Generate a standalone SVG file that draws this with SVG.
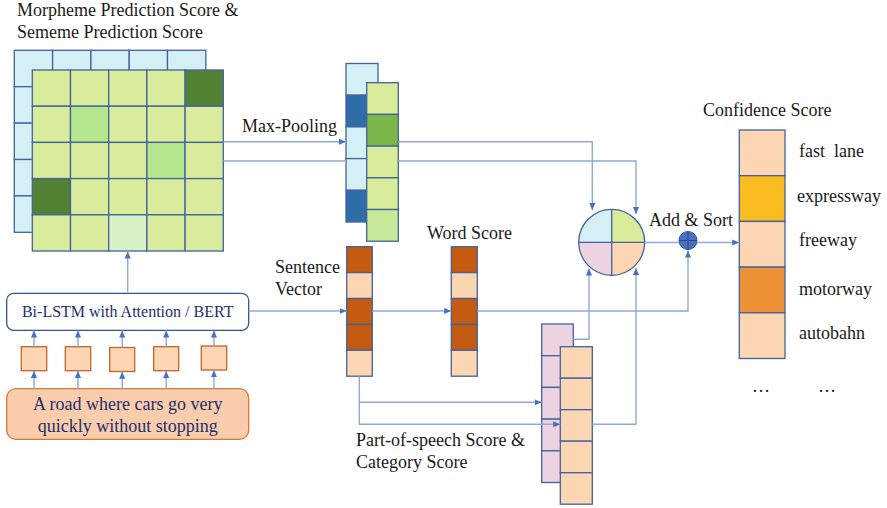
<svg xmlns="http://www.w3.org/2000/svg" width="887" height="508" viewBox="0 0 887 508" font-family="'Liberation Serif', 'Times New Roman', serif">
<defs>
<marker id="ah" viewBox="0 0 8 8" refX="8" refY="4" markerWidth="7" markerHeight="7" markerUnits="userSpaceOnUse" orient="auto"><path d="M0,0.5 L8,4 L0,7.5 z" fill="#4472C4"/></marker>
<style>
text{font-family:"Liberation Serif","Times New Roman",serif;font-size:18px;fill:#1a1a1a}
.nv{fill:#1F2E6B}
.c{stroke:#4262A0;stroke-width:1.3}
.bl{fill:#D5F0F5}
.g{fill:#D8EC9B}
.gd{fill:#548235}
.gm{fill:#B5E58D}
.gl{fill:#D9F2C5}
.db{fill:#2F6DA8}
.gg{fill:#7AB648}
.gp{fill:#C7E99A}
.o{fill:#C55A11}
.p{fill:#FCD5B2}
.pk{fill:#ECD3DF}
.y{fill:#FABD21}
.or{fill:#EE9036}
.ln{fill:none;stroke:#8FA9DA;stroke-width:1.4}
</style>
</defs>
<rect width="887" height="508" fill="#fff"/>

<g id="title">
<text x="17" y="16">Morpheme Prediction Score &amp;</text>
<text x="17" y="38">Sememe Prediction Score</text>
</g>

<g id="score-grid">
<g class="c bl">
<rect x="14.3" y="50.3" width="38.3" height="36.4"/><rect x="52.6" y="50.3" width="38.3" height="36.4"/><rect x="90.9" y="50.3" width="38.3" height="36.4"/><rect x="129.2" y="50.3" width="38.3" height="36.4"/><rect x="167.5" y="50.3" width="38.3" height="36.4"/>
<rect x="14.3" y="86.7" width="38.3" height="36.4"/><rect x="14.3" y="123.1" width="38.3" height="36.4"/><rect x="14.3" y="159.5" width="38.3" height="36.4"/><rect x="14.3" y="195.9" width="38.3" height="36.4"/>
</g>
<g class="c">
<rect class="g" x="32.3" y="70" width="38.2" height="36.2"/><rect class="g" x="70.5" y="70" width="38.2" height="36.2"/><rect class="g" x="108.7" y="70" width="38.2" height="36.2"/><rect class="g" x="146.9" y="70" width="38.2" height="36.2"/><rect class="gd" x="185.1" y="70" width="38.2" height="36.2"/>
<rect class="g" x="32.3" y="106.2" width="38.2" height="36.2"/><rect class="gm" x="70.5" y="106.2" width="38.2" height="36.2"/><rect class="g" x="108.7" y="106.2" width="38.2" height="36.2"/><rect class="g" x="146.9" y="106.2" width="38.2" height="36.2"/><rect class="g" x="185.1" y="106.2" width="38.2" height="36.2"/>
<rect class="g" x="32.3" y="142.4" width="38.2" height="36.2"/><rect class="g" x="70.5" y="142.4" width="38.2" height="36.2"/><rect class="g" x="108.7" y="142.4" width="38.2" height="36.2"/><rect class="gm" x="146.9" y="142.4" width="38.2" height="36.2"/><rect class="g" x="185.1" y="142.4" width="38.2" height="36.2"/>
<rect class="gd" x="32.3" y="178.6" width="38.2" height="36.2"/><rect class="g" x="70.5" y="178.6" width="38.2" height="36.2"/><rect class="g" x="108.7" y="178.6" width="38.2" height="36.2"/><rect class="g" x="146.9" y="178.6" width="38.2" height="36.2"/><rect class="g" x="185.1" y="178.6" width="38.2" height="36.2"/>
<rect class="g" x="32.3" y="214.8" width="38.2" height="36.2"/><rect class="g" x="70.5" y="214.8" width="38.2" height="36.2"/><rect class="gl" x="108.7" y="214.8" width="38.2" height="36.2"/><rect class="g" x="146.9" y="214.8" width="38.2" height="36.2"/><rect class="g" x="185.1" y="214.8" width="38.2" height="36.2"/>
</g>
</g>

<g id="max-pooling">
<text x="242" y="132">Max-Pooling</text>
<g class="c">
<rect class="bl" x="346" y="63.5" width="32" height="31.7"/><rect class="db" x="346" y="95.2" width="32" height="31.7"/><rect class="bl" x="346" y="126.9" width="32" height="31.7"/><rect class="bl" x="346" y="158.6" width="32" height="31.7"/><rect class="db" x="346" y="190.3" width="32" height="31.7"/>
<rect class="g" x="366.7" y="82.7" width="31.6" height="31.7"/><rect class="gg" x="366.7" y="114.4" width="31.6" height="31.7"/><rect class="g" x="366.7" y="146.1" width="31.6" height="31.7"/><rect class="g" x="366.7" y="177.8" width="31.6" height="31.7"/><rect class="gp" x="366.7" y="209.5" width="31.6" height="31.7"/>
</g>
</g>

<g id="encoder">
<rect x="6.7" y="293.3" width="242" height="37" rx="7" fill="#fff" stroke="#2F5597" stroke-width="1.3"/>
<text class="nv" x="127.7" y="317" text-anchor="middle" style="font-size:16px">Bi-LSTM with Attention / BERT</text>
</g>

<g id="tokens" class="c" style="stroke:#C0652A">
<rect class="p" x="21.3" y="346.7" width="25.4" height="24"/>
<rect class="p" x="65.3" y="346.7" width="25.4" height="24"/>
<rect class="p" x="109.7" y="347.5" width="25" height="24"/>
<rect class="p" x="153.7" y="346.7" width="25" height="24"/>
<rect class="p" x="201.3" y="346" width="25.4" height="24"/>
</g>

<g id="input">
<rect x="6.7" y="388.7" width="242" height="50.6" rx="9" fill="#F9CDAC" stroke="#D07A3E" stroke-width="1.3"/>
<text class="nv" x="127.7" y="410" text-anchor="middle">A road where cars go very</text>
<text class="nv" x="127.7" y="432" text-anchor="middle">quickly without stopping</text>
</g>

<g id="sentence-vector">
<text x="275" y="273">Sentence</text>
<text x="275" y="295">Vector</text>
<g class="c">
<rect class="o" x="346.7" y="246.7" width="25.6" height="25.9"/><rect class="p" x="346.7" y="272.6" width="25.6" height="25.9"/><rect class="o" x="346.7" y="298.5" width="25.6" height="25.9"/><rect class="o" x="346.7" y="324.4" width="25.6" height="25.9"/><rect class="p" x="346.7" y="350.3" width="25.6" height="25.9"/>
</g>
</g>

<g id="word-score">
<text x="427" y="239">Word Score</text>
<g class="c">
<rect class="o" x="451.3" y="246.7" width="26" height="25.9"/><rect class="p" x="451.3" y="272.6" width="26" height="25.9"/><rect class="o" x="451.3" y="298.5" width="26" height="25.9"/><rect class="o" x="451.3" y="324.4" width="26" height="25.9"/><rect class="p" x="451.3" y="350.3" width="26" height="25.9"/>
</g>
</g>

<g id="pos-category">
<text x="356" y="446">Part-of-speech Score &amp;</text>
<text x="356" y="468">Category Score</text>
<g class="c">
<rect class="pk" x="541.7" y="324" width="31.6" height="31.7"/><rect class="pk" x="541.7" y="355.7" width="31.6" height="31.7"/><rect class="pk" x="541.7" y="387.4" width="31.6" height="31.7"/><rect class="pk" x="541.7" y="419.1" width="31.6" height="31.7"/><rect class="pk" x="541.7" y="450.8" width="31.6" height="31.7"/>
<rect class="p" x="560.3" y="346.7" width="32" height="31.5"/><rect class="p" x="560.3" y="378.2" width="32" height="31.5"/><rect class="p" x="560.3" y="409.7" width="32" height="31.5"/><rect class="p" x="560.3" y="441.2" width="32" height="31.5"/><rect class="p" x="560.3" y="472.7" width="32" height="31.5"/>
</g>
</g>

<g id="combine">
<path class="bl" d="M611.7,242.3 L578.7,242.3 A33,33 0 0 1 611.7,209.3 Z"/>
<path class="g" d="M611.7,242.3 L611.7,209.3 A33,33 0 0 1 644.7,242.3 Z"/>
<path class="pk" d="M611.7,242.3 L611.7,275.3 A33,33 0 0 1 578.7,242.3 Z"/>
<path class="p" d="M611.7,242.3 L644.7,242.3 A33,33 0 0 1 611.7,275.3 Z"/>
<circle cx="611.7" cy="242.3" r="33" fill="none" stroke="#4262A0" stroke-width="1.3"/>
<path d="M578.7,242.3 H644.7 M611.7,209.3 V275.3" stroke="#4262A0" stroke-width="1.3"/>
</g>

<g id="add-sort">
<text x="649" y="226">Add &amp; Sort</text>
<circle cx="688" cy="240.5" r="9" fill="#4A6FC1" stroke="#2F5597" stroke-width="1"/>
<path d="M679,240.5 H697 M688,231.5 V249.5" stroke="#2E4A8A" stroke-width="1.2"/>
</g>

<g id="confidence">
<text x="703" y="116">Confidence Score</text>
<g class="c">
<rect class="p" x="739.3" y="130" width="45.7" height="45.7"/><rect class="y" x="739.3" y="175.7" width="45.7" height="45.7"/><rect class="p" x="739.3" y="221.4" width="45.7" height="45.7"/><rect class="or" x="739.3" y="267.1" width="45.7" height="45.7"/><rect class="p" x="739.3" y="312.8" width="45.7" height="45.7"/>
</g>
<text x="799" y="157" xml:space="preserve" style="white-space:pre">fast  lane</text>
<text x="797" y="202">expressway</text>
<text x="799" y="246">freeway</text>
<text x="799" y="295">motorway</text>
<text x="799" y="339">autobahn</text>
<text x="752" y="392">…</text>
<text x="818" y="392">…</text>
</g>

<g id="connectors" class="ln">
<path d="M223.5,141.7 H346" marker-end="url(#ah)"/>
<path d="M398.3,141.7 H592.3 V210" marker-end="url(#ah)"/>
<path d="M223.5,161 H346"/>
<path d="M398.3,161 H636 V214" marker-end="url(#ah)"/>
<path d="M127.7,293.3 V251.5" marker-end="url(#ah)"/>
<path d="M34,346.7 V330.5" marker-end="url(#ah)"/>
<path d="M78,346.7 V330.5" marker-end="url(#ah)"/>
<path d="M122.2,347.5 V330.5" marker-end="url(#ah)"/>
<path d="M166.2,346.7 V330.5" marker-end="url(#ah)"/>
<path d="M214,346 V330.5" marker-end="url(#ah)"/>
<path d="M34,388.7 V370.9" marker-end="url(#ah)"/>
<path d="M78,388.7 V370.9" marker-end="url(#ah)"/>
<path d="M122.2,388.7 V371.7" marker-end="url(#ah)"/>
<path d="M166.2,388.7 V370.9" marker-end="url(#ah)"/>
<path d="M214,388.7 V370.2" marker-end="url(#ah)"/>
<path d="M248.7,311 H346.5" marker-end="url(#ah)"/>
<path d="M372.3,311 H451.2" marker-end="url(#ah)"/>
<path d="M477.3,311 H688 V250.5" marker-end="url(#ah)"/>
<path d="M359.3,376.2 V424.3 H560.2" marker-end="url(#ah)"/>
<path d="M359.3,402.3 H541.6" marker-end="url(#ah)"/>
<path d="M592.3,424.3 H636 V268" marker-end="url(#ah)"/>
<path d="M573.3,339.3 H589 V268.5" marker-end="url(#ah)"/>
<path d="M644.7,242.5 H679"/>
<path d="M697,242.5 H739.2" marker-end="url(#ah)"/>
</g>
</svg>
